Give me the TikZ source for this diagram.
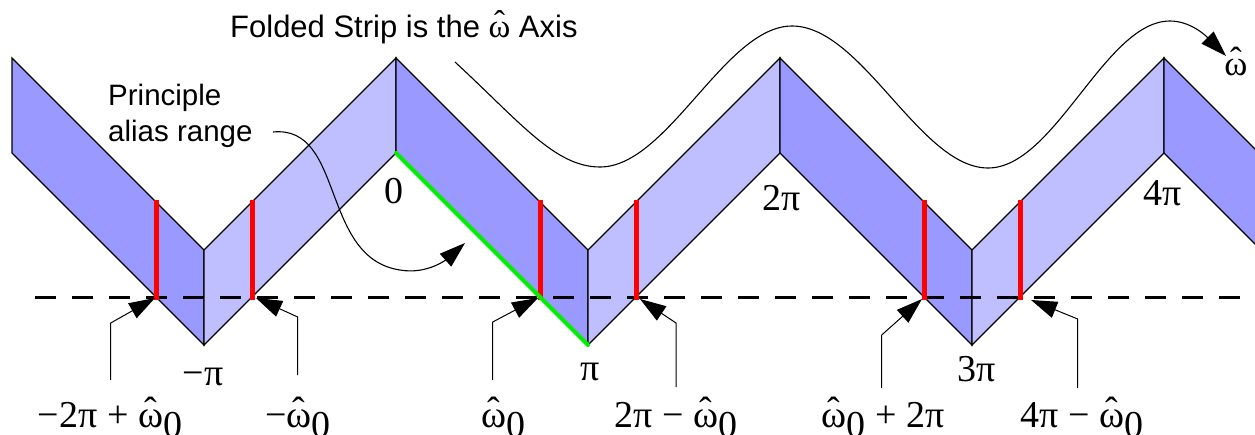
\documentclass[tikz,border=0pt]{standalone}
\usepackage{fontspec}
\setmainfont{Liberation Serif}
\newfontfamily\sansf{Liberation Sans}
\usetikzlibrary{arrows.meta}
\definecolor{darkstrip}{RGB}{153,153,255}
\definecolor{lightstrip}{RGB}{191,191,255}
\definecolor{redmark}{RGB}{255,0,0}
\definecolor{greenmark}{RGB}{0,240,0}
\newcommand\wh{{\ooalign{ω\cr\hidewidth\raisebox{0.1em}{ˆ}\hidewidth\cr}}}
\newcommand\wz{\wh\raisebox{-10pt}{0}}
\begin{document}
\begin{tikzpicture}[x=1pt,y=-1pt,
  strip/.style={draw=black,line width=1.2pt,line join=miter},
  darkseg/.style={strip,fill=darkstrip},
  lightseg/.style={strip,fill=lightstrip},
  redmarkline/.style={draw=redmark,line width=5pt},
  greenmarkline/.style={draw=greenmark,line width=4pt,line cap=round},
  dashline/.style={draw=black,line width=2.2pt,dash pattern=on 21pt off 16pt},
  mlab/.style={font=\fontsize{38}{44}\selectfont,inner sep=0pt,anchor=base},
  slab/.style={font=\sansf\fontsize{31}{36}\selectfont,inner sep=0pt},
  leader/.style={draw=black,line width=1pt,-{Triangle[length=26pt,width=17pt]}},
  curvearrow/.style={draw=black,line width=1.1pt,-{Triangle[length=26pt,width=17pt]}}]
\useasboundingbox (0,0) rectangle (1255,434);
\fill[white] (0,0) rectangle (1255,434);
\begin{scope}
\clip (0,0) rectangle (1255,434);
% strip segments
\path[darkseg]  (12,58) -- (204,250) -- (204,345) -- (12,153) -- cycle;
\path[lightseg] (204,250) -- (396,58) -- (396,153) -- (204,345) -- cycle;
\path[darkseg]  (396,58) -- (588,250) -- (588,345) -- (396,153) -- cycle;
\path[lightseg] (588,250) -- (780,58) -- (780,153) -- (588,345) -- cycle;
\path[darkseg]  (780,58) -- (972,250) -- (972,345) -- (780,153) -- cycle;
\path[lightseg] (972,250) -- (1164,58) -- (1164,153) -- (972,345) -- cycle;
\path[darkseg]  (1164,58) -- (1356,250) -- (1356,345) -- (1164,153) -- cycle;
\end{scope}
% dashed line
\coordinate (dL) at (35,297.5);
\coordinate (dR) at (1240,297.5);
\draw[dashline] (dL) -- (dR);
% red marks
\foreach \x in {156,252,540,636,924,1020}{
  \draw[redmarkline] (\x,200) -- (\x,299.5);
}
% green principal range
\coordinate (g0) at (396,153);
\coordinate (g1) at (588,345);
\draw[greenmarkline] (g0) -- (g1);
% axis labels
\node[mlab] (n0) at (394,203) {0};
\node[mlab] (n2pi) at (782,210) {2π};
\node[mlab] (n4pi) at (1163,205) {4π};
\node[mlab] (nmpi) at (203,385) {−π};
\node[mlab] (npi) at (590,380) {π};
\node[mlab] (n3pi) at (977,381) {3π};
% bottom labels
\node[mlab] (l1) at (110,427) {−2π + \wz};
\node[mlab] (l2) at (298,427) {−\wz};
\node[mlab] (l3) at (503,427) {\wz};
\node[mlab] (l4) at (676,427) {2π − \wz};
\node[mlab] (l5) at (883,427) {\wz{} + 2π};
\node[mlab] (l6) at (1082,427) {4π − \wz};
% leaders
\coordinate (s1) at (110.7,380); \coordinate (b1) at (110.7,323); \coordinate (t1) at (155,298);
\coordinate (s2) at (297.7,375); \coordinate (b2) at (297.7,317); \coordinate (t2) at (256,298);
\coordinate (s3) at (492.7,380); \coordinate (b3) at (492.7,322); \coordinate (t3) at (538,298);
\coordinate (s4) at (676,387);   \coordinate (b4) at (676,323);   \coordinate (t4) at (640,299);
\coordinate (s5) at (881.7,388); \coordinate (b5) at (881.7,335); \coordinate (t5) at (922,299);
\coordinate (s6) at (1077.7,388);\coordinate (b6) at (1077.7,319);\coordinate (t6) at (1031,300);
\draw[leader] (s1) -- (b1) -- (t1);
\draw[leader] (s2) -- (b2) -- (t2);
\draw[leader] (s3) -- (b3) -- (t3);
\draw[leader] (s4) -- (b4) -- (t4);
\draw[leader] (s5) -- (b5) -- (t5);
\draw[leader] (s6) -- (b6) -- (t6);
% title
\node[slab,anchor=base west] (title) at (230,37) {Folded Strip is the {\rmfamily\fontsize{33}{36}\selectfont\wh} Axis};
% principle alias range
\node[slab,anchor=north west,align=left,font=\sansf\fontsize{29.5}{36}\selectfont] (par) at (108,83.5) {Principle\\alias range};
\coordinate (pa0) at (273,132);
\coordinate (pa1) at (400,270);
\coordinate (pa2) at (465,243);
\draw[curvearrow] (pa0) .. controls (345,125) and (320,258) .. (pa1) .. controls (428,275) and (448,258) .. (pa2);
% omega axis wave
\coordinate (w0) at (455,62);
\coordinate (w1) at (600,167);
\coordinate (w2) at (792,26);
\coordinate (w3) at (988,168);
\coordinate (w4) at (1170,21);
\coordinate (w5) at (1226,56);
\draw[curvearrow] (w0) .. controls (520,122) and (555,167) .. (w1)
  .. controls (668,167) and (725,26) .. (w2)
  .. controls (862,26) and (920,168) .. (w3)
  .. controls (1055,168) and (1105,21) .. (w4)
  .. controls (1192,21) and (1208,38) .. (w5);
\node[mlab,font=\fontsize{35}{40}\selectfont] (wlab) at (1236,75) {\wh};
\end{tikzpicture}
\end{document}
